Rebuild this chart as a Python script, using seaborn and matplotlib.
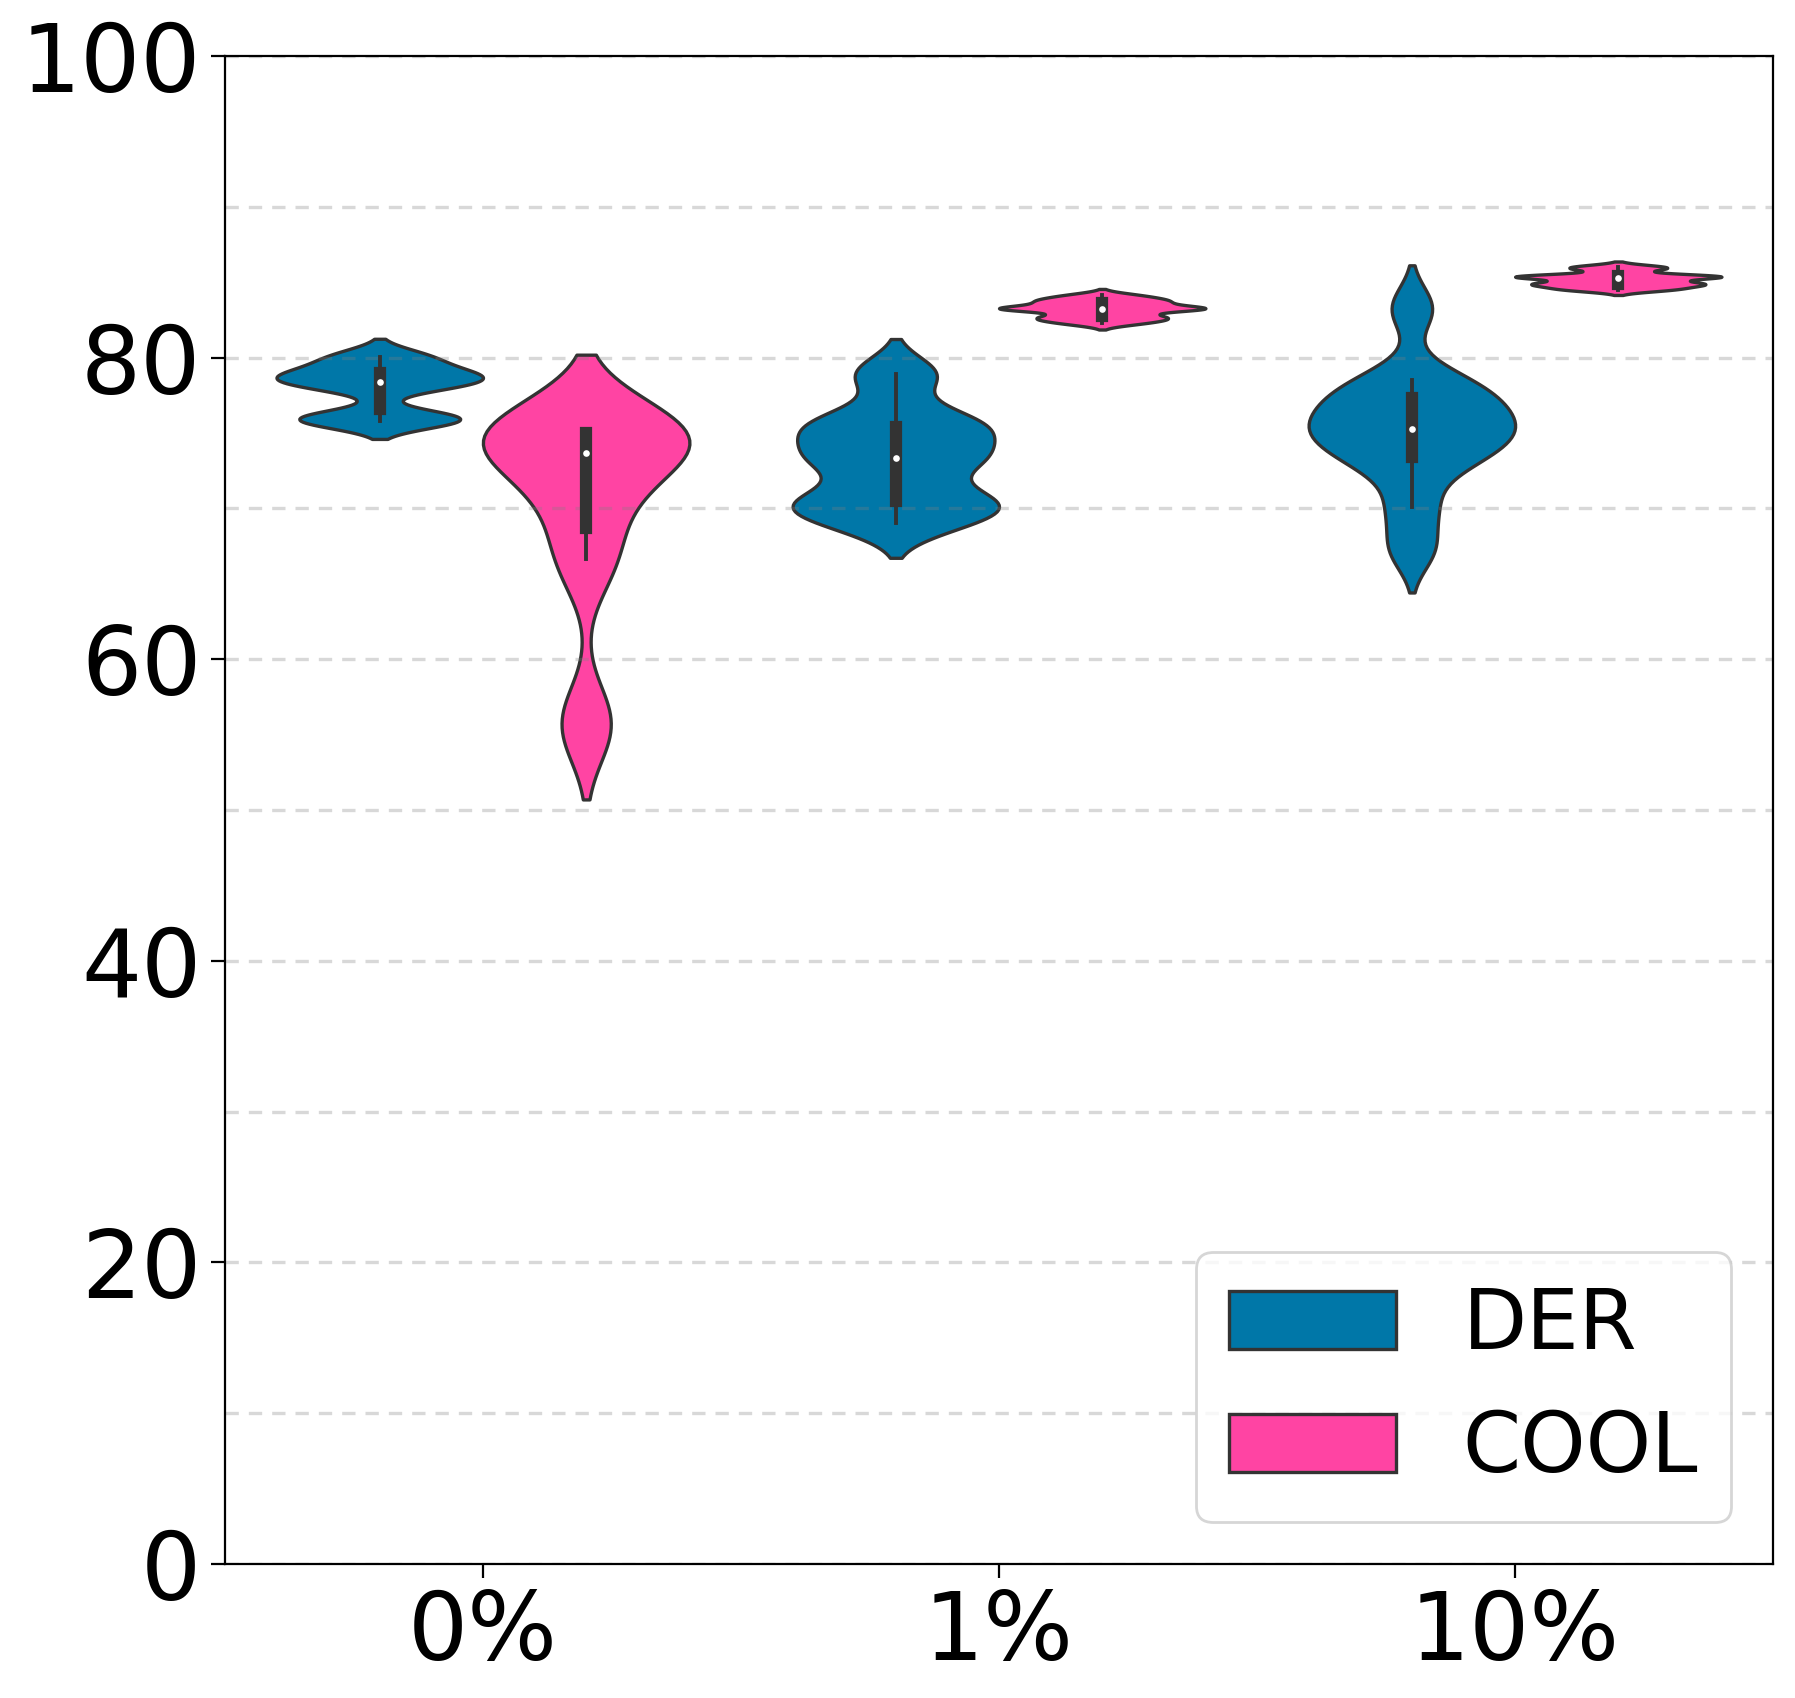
import matplotlib
matplotlib.use("Agg")
import matplotlib.pyplot as plt
from matplotlib.ticker import MultipleLocator
import seaborn as sns
import pandas as pd

# Kategorije (razina suma) i metode
noise_levels = ['0%', '1%', '10%']
methods = ['DER', 'COOL']

# Tocnost po seedovima (procitano s grafa)
der_0 = [75.8, 76.05, 78.15, 78.6, 79.1, 80.06]
cool_0 = [55.7, 66.64, 70.7, 73.65, 74.9, 75.05, 75.2]
der_1 = [69.05, 70.2, 70.6, 72.9, 73.74, 75.2, 75.9, 78.91]
cool_1 = [82.27, 82.5, 82.65, 82.8, 83.2, 83.24, 83.27, 83.3, 83.6, 83.75, 83.9, 84.15]
der_10 = [67.3, 70.07, 72.8, 73.6, 74.5, 75.1, 75.5, 76.2, 77.1, 77.9, 78.51, 83.25]
cool_10 = [84.5, 84.6, 84.85, 84.9, 84.95, 85.3, 85.38, 85.4, 85.42, 85.9, 86.03]

colors = ['#0077a8', '#ff44a3']

# Dugi format za seaborn
rows = []
for noise, der, cool in zip(noise_levels, [der_0, der_1, der_10], [cool_0, cool_1, cool_10]):
    for v in der:
        rows.append({'noise': noise, 'method': 'DER', 'acc': v})
    for v in cool:
        rows.append({'noise': noise, 'method': 'COOL', 'acc': v})
df = pd.DataFrame(rows)

fig = plt.figure(figsize=(8.975, 8.49), dpi=200)
ax = fig.add_axes([0.1253, 0.0789, 0.8625, 0.8881])

sns.violinplot(data=df, x='noise', y='acc', hue='method', order=noise_levels,
               hue_order=methods, palette=colors, saturation=1, inner='box',
               density_norm='width', bw_method=0.35, cut=2, linewidth=1.2,
               linecolor='#333333',
               inner_kws=dict(box_width=4.4, whis_width=1.4, marker='o'), ax=ax)

# manja bijela tocka za medijan
for line in ax.lines:
    if line.get_marker() == 'o':
        line.set_markersize(2.4)
        line.set_markeredgewidth(0)
        line.set_markerfacecolor('white')

ax.set_ylim(0, 100)
ax.set_yticks([0, 20, 40, 60, 80, 100])
ax.yaxis.set_minor_locator(MultipleLocator(10))
ax.tick_params(which='minor', length=0)
ax.tick_params(which='major', labelsize=34, length=5)
ax.grid(axis='y', which='both', linestyle=(0, (4, 3)), color='gray', alpha=0.3, linewidth=1.2)
ax.set_xlabel('')
ax.set_ylabel('')

ax.legend(loc='lower right', fontsize=30)

plt.savefig('out.png', dpi=200)
plt.close()
